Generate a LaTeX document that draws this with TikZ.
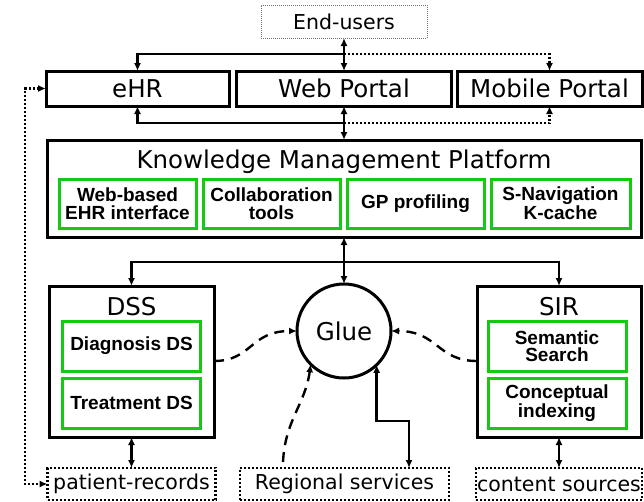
\documentclass[tikz,border=0pt]{standalone}
\usepackage{fontspec}
\setmainfont{DejaVu Sans}
\newfontfamily\labelfont{Liberation Sans}
\usetikzlibrary{arrows.meta,calc}
\definecolor{boxgreen}{RGB}{20,200,20}
\begin{document}
\begin{tikzpicture}[x=1pt,y=-1pt,
  >={Latex[length=8pt,width=7pt]},
  every node/.style={inner sep=0pt, outer sep=0pt},
  mainfont/.style={font=\fontsize{24.5}{28}\selectfont},
  portal/.style={draw, line width=3pt, minimum height=35pt, mainfont},
  sysbox/.style={draw, line width=3pt},
  subbox/.style={draw=boxgreen, line width=3pt, align=center, minimum height=50pt,
                 font=\labelfont\fontsize{19}{17.5}\selectfont\bfseries},
  srcbox/.style={draw, line width=2.2pt, dash pattern=on 2pt off 2pt,
                 minimum height=32pt, font=\fontsize{20.5}{24}\selectfont},
  userbox/.style={draw=black!55, line width=0.8pt, dash pattern=on 1pt off 1pt,
                  minimum height=33pt, font=\fontsize{20.5}{24}\selectfont},
  link/.style={line width=2.4pt},
  dotlink/.style={line width=2.4pt, dash pattern=on 2pt off 2pt},
  dashlink/.style={line width=2.4pt, dash pattern=on 10pt off 7pt},
]
\useasboundingbox (0,0) rectangle (644,501);

% users and portals
\node[userbox, minimum width=166pt] (users) at (344,21.5) {End-users};
\node[portal, minimum width=183pt] (ehr) at (137.5,88.5) {eHR};
\node[portal, minimum width=215pt] (web) at (344,88.5) {Web Portal};
\node[portal, minimum width=185pt] (mobile) at (549.5,88.5) {Mobile Portal};

% knowledge management platform
\node[sysbox, minimum width=594pt, minimum height=97pt] (kmp) at (344,188.5) {};
\node[mainfont] (kmptitle) at (344,162) {Knowledge Management Platform};
\node[subbox, minimum width=137pt, minimum height=49pt] (ehrif) at (127.5,203.5) {Web-based\\EHR interface};
\node[subbox, minimum width=137pt, minimum height=49pt] (collab) at (271.5,203.5) {Collaboration\\tools};
\node[subbox, minimum width=137pt, minimum height=49pt] (gp) at (415.5,203.5) {GP profiling};
\node[subbox, minimum width=139pt, minimum height=49pt] (snav) at (560.5,203.5) {S-Navigation\\K-cache};

% decision support
\node[sysbox, minimum width=165pt, minimum height=151pt] (dss) at (131.5,361.5) {};
\node[mainfont] (dsstitle) at (131.5,307) {DSS};
\node[subbox, minimum width=138pt] (diag) at (131.5,346) {Diagnosis DS};
\node[subbox, minimum width=138pt] (treat) at (131.5,403) {Treatment DS};

% semantic information retrieval
\node[sysbox, minimum width=164pt, minimum height=151pt] (sir) at (559,361.5) {};
\node[mainfont] (sirtitle) at (559,307) {SIR};
\node[subbox, minimum width=138pt] (sem) at (557,346) {Semantic\\Search};
\node[subbox, minimum width=138pt] (conc) at (557,403) {Conceptual\\indexing};

% glue
\node[draw, circle, line width=3pt, minimum size=94pt, mainfont] (glue) at (344,331) {Glue};

% data sources
\node[srcbox, minimum width=168pt] (patient) at (131.5,484) {patient-records};
\node[srcbox, minimum width=209pt] (regional) at (344.5,484) {Regional services};
\node[srcbox, minimum width=166pt] (content) at (559,484) {content sources};

% upper distribution lines
\coordinate (top) at ($(users.south)+(0,16)$);
\coordinate (bot) at ($(web.south)+(0,17)$);
\draw[link,<->] (users.south) -- (web.north);
\draw[link,->] (top) -| (ehr.north);
\draw[dotlink,->] (top) -| (mobile.north);
\draw[link,<->] (web.south) -- (kmp.north);
\draw[link,->] (bot) -| (ehr.south);
\draw[dotlink,->] (bot) -| (mobile.south);

% platform to lower systems
\coordinate (hub) at ($(kmp.south)+(0,25)$);
\draw[link,<->] (kmp.south) -- (glue.north);
\draw[link,<->] (dss.north) |- (hub) -| (sir.north);
\draw[link,<->] (dss.south) -- (patient.north);
\draw[link,<->] (sir.south) -- (content.north);

% records link to eHR
\draw[dotlink,<->] (ehr.west) -- ++(-21,0) |- (patient.west);

% dashed feeds into the glue
\draw[dashlink,->] ($(dss.east)+(0,-0.5)$) .. controls (252,361) and (250,331) .. (glue.west);
\draw[dashlink,->] ($(sir.west)+(0,-0.5)$) .. controls (437,361) and (438,331) .. (glue.east);
\draw[dashlink,->] ($(regional.north)+(-61.5,-6)$) .. controls (285,420) and (305,405) .. (glue.225);

% regional services link
\coordinate (rsbend) at ($(regional.north)+(64.5,-47)$);
\draw[link,<->] (glue.-46) |- (rsbend) -- (rsbend |- regional.north);
\end{tikzpicture}
\end{document}
